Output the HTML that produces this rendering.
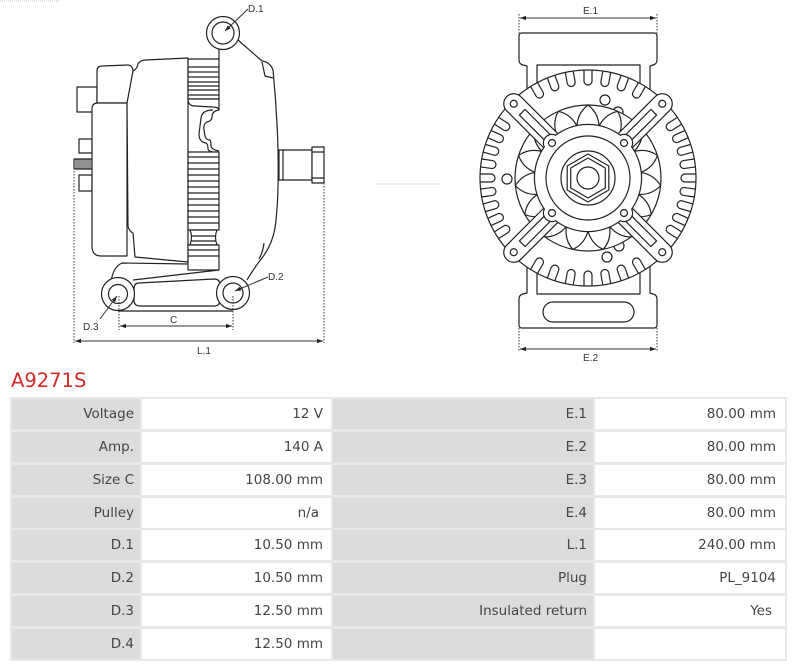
<!DOCTYPE html>
<html><head><meta charset="utf-8"><style>
html,body{margin:0;padding:0;background:#fff;}
#w{position:relative;width:800px;height:667px;overflow:hidden;background:#fff;}
.t{position:absolute;left:10px;top:397px;width:777px;height:264px;background:#e8e8e8;}
.r{position:absolute;left:0;width:777px;height:30px;}
.c{position:absolute;top:0;height:30px;line-height:30px;font-family:"DejaVu Sans","Liberation Sans",sans-serif;font-size:13.5px;color:#444;text-align:right;box-sizing:border-box;white-space:nowrap;}
.a{left:2px;width:128px;background:#dcdcdc;padding-right:6px;}
.b{left:132px;width:189px;background:#fff;padding-right:8px;}
.d{left:323px;width:260px;background:#dcdcdc;padding-right:6px;}
.e{left:585px;width:190px;background:#fff;padding-right:9px;}
.title{position:absolute;left:11px;top:371px;font-family:"DejaVu Sans","Liberation Sans",sans-serif;font-size:19.5px;line-height:20px;color:#d42a2a;}
svg text{font-family:"Liberation Sans",sans-serif;font-size:10px;fill:#333;}
</style></head><body><div id="w">
<svg width="800" height="365" viewBox="0 0 800 365" style="position:absolute;left:0;top:0">
<defs>
<marker id="m" viewBox="0 0 10 10" refX="10" refY="5" markerUnits="userSpaceOnUse" markerWidth="6" markerHeight="6" orient="auto-start-reverse"><path d="M0,1.5 L10,5 L0,8.5z" fill="#222"/></marker>
</defs>
<path d="M0,1 H60 M376,184 H440" stroke="#bbb" stroke-width="1" stroke-dasharray="1,1" fill="none"/>

<!-- ===== LEFT DIAGRAM ===== -->
<g fill="#fff" stroke="#222" stroke-width="1.2" stroke-linejoin="round">
<rect x="77" y="87" width="20" height="25"/>
<rect x="79" y="139" width="13" height="14"/>
<rect x="79" y="175" width="13" height="16"/>
<rect x="74" y="159" width="18" height="10"/>
<path fill="none" stroke-width="1" d="M76,159V169M78,159V169M80,159V169M82,159V169M84,159V169M86,159V169M88,159V169M90,159V169"/>
<path d="M97,103 V71 Q97,66 102,66 L128,65 Q132,65 133,70 V103 Z"/>
<path d="M92,109 Q92,103 98,103 H127 V256 H101 Q92,256 92,246 Z"/>
<path d="M133,71 Q137,69 138,64 Q140,60 146,60 L188,58 V262 L135,257 L133,233 Q129,231 128,226 L127,103 Z"/>
<path stroke="none" d="M219,47 L238,40 L262,61 Q270,62 273,70 Q277,110 278,150 Q279,200 275,228 Q272,245 262,258 Q254,268 248,279 L219,275 Z"/>
<path fill="none" d="M238,40 L262,61 Q270,62 273,70 Q277,110 278,150 Q279,200 275,228 Q272,245 262,258 Q254,268 247,280"/>
<path fill="none" d="M262,62 L265,76 L273,78"/>
<path fill="none" d="M264,243 Q263,252 259,259"/>
<path fill="none" d="M219,48 V59"/>
<rect x="188" y="59" width="31" height="40"/>
<path fill="none" d="M188,67H219M188,72H219M188,77H219M188,82H219M188,86H219M188,90H219M188,95H219"/>
<path d="M188,99 Q188,106 195,106 L212,107 Q219,107 219,110 V99 Z"/>
<path fill="none" d="M213,110 Q202,110 201,118 L199,134 Q199,142 206,143 Q208,144 208,149 Q209,152 213,152"/>
<path fill="none" d="M219,110 Q212,111 212,117 Q212,121 207,122 Q203,124 204,130 L205,136 Q206,140 210,140 Q211,141 211,146 Q212,150 219,151"/>
<rect x="188" y="152" width="31" height="78"/>
<path fill="none" d="M188,157H219M188,163H219M188,169H219M188,175H219M188,181H219M188,187H219M188,193H219M188,199H219M188,205H219M188,211H219M188,217H219M188,223H219"/>
<path d="M190,230 Q193,237 190,245 H217 Q214,237 217,230 Z"/>
<path fill="none" d="M191,236H216M191,241H216"/>
<rect x="188" y="245" width="31" height="25"/>
<path fill="none" d="M188,250H219M188,256H219"/>
<path fill="none" d="M111,282 Q113,267 122,263 L188,264"/>
<path fill="none" d="M133,280 L219,270"/>
<path d="M139,283 L214,279 Q220,279 220,285 V300 Q220,306 214,306 H140 Q134,306 134,300 V289 Q134,283 139,283 Z"/>
<path fill="none" d="M118,311 H233"/>
<circle cx="118" cy="294" r="16.5"/>
<circle cx="118" cy="294" r="9.5"/>
<circle cx="233" cy="293" r="16.5"/>
<circle cx="233" cy="293" r="10"/>
<circle cx="223" cy="33" r="16.5"/>
<circle cx="223" cy="33" r="11"/>
<rect x="279" y="150" width="33" height="30"/>
<path fill="none" d="M283,150V180"/>
<rect x="312" y="147" width="12" height="36"/>
<path fill="none" d="M312,152H324M312,178H324"/>
</g>
<g fill="none" stroke="#333" stroke-width="1">
<path stroke-dasharray="1.5,1.5" d="M74,168 V343 M324,183 V343 M119,296 V330 M233,296 V330"/>
<line x1="75" y1="341" x2="323" y2="341" marker-start="url(#m)" marker-end="url(#m)"/>
<line x1="120" y1="326" x2="232" y2="326" marker-start="url(#m)" marker-end="url(#m)"/>
<line x1="248" y1="9" x2="225" y2="31" marker-end="url(#m)"/>
<line x1="268" y1="277" x2="235" y2="291" marker-end="url(#m)"/>
<line x1="100" y1="319" x2="117" y2="296" marker-end="url(#m)"/>
</g>
<text x="248" y="12">D.1</text>
<text x="268" y="280">D.2</text>
<text x="83" y="330">D.3</text>
<text x="170" y="323">C</text>
<text x="197" y="354">L.1</text>

<!-- ===== RIGHT DIAGRAM ===== -->
<g fill="#fff" stroke="#222" stroke-width="1.2" stroke-linejoin="round">
<path d="M519,36 Q519,33 522,33 L654,33 Q657,33 657,36 L657,60 Q657,64 653,65 L650,66 L650,130 L527,130 L527,66 L523,65 Q519,64 519,60 Z"/>
<rect x="537" y="65" width="103" height="70"/>
<path d="M519,325 Q519,328 522,328 L654,328 Q657,328 657,325 L657,299 Q657,295 653,294 L650,293 L650,230 L527,230 L527,293 L523,294 Q519,295 519,299 Z"/>
<rect x="537" y="225" width="103" height="69"/>
<rect x="543" y="302" width="91" height="20" rx="10"/>
<circle cx="588" cy="178" r="108"/>
<g fill="none">
<path id="n" d="M584,70 L584,81 A4,4 0 0 0 592,81 L592,70"/>
<use href="#n" transform="rotate(-30 588 178)"/><use href="#n" transform="rotate(-20 588 178)"/><use href="#n" transform="rotate(-10 588 178)"/>
<use href="#n" transform="rotate(10 588 178)"/><use href="#n" transform="rotate(20 588 178)"/><use href="#n" transform="rotate(30 588 178)"/>
<use href="#n" transform="rotate(150 588 178)"/><use href="#n" transform="rotate(160 588 178)"/><use href="#n" transform="rotate(170 588 178)"/><use href="#n" transform="rotate(180 588 178)"/>
<use href="#n" transform="rotate(190 588 178)"/><use href="#n" transform="rotate(200 588 178)"/><use href="#n" transform="rotate(210 588 178)"/>
<use href="#n" transform="rotate(-122 588 178)"/><use href="#n" transform="rotate(-114 588 178)"/><use href="#n" transform="rotate(-106 588 178)"/><use href="#n" transform="rotate(-98 588 178)"/><use href="#n" transform="rotate(-90 588 178)"/><use href="#n" transform="rotate(-82 588 178)"/><use href="#n" transform="rotate(-74 588 178)"/><use href="#n" transform="rotate(-66 588 178)"/><use href="#n" transform="rotate(-58 588 178)"/>
<use href="#n" transform="rotate(58 588 178)"/><use href="#n" transform="rotate(66 588 178)"/><use href="#n" transform="rotate(74 588 178)"/><use href="#n" transform="rotate(82 588 178)"/><use href="#n" transform="rotate(90 588 178)"/><use href="#n" transform="rotate(98 588 178)"/><use href="#n" transform="rotate(106 588 178)"/><use href="#n" transform="rotate(114 588 178)"/><use href="#n" transform="rotate(122 588 178)"/>
</g>
<circle cx="605" cy="100" r="5"/><circle cx="618" cy="112" r="5"/>
<circle cx="607" cy="257" r="5"/><circle cx="619" cy="246" r="5"/>
<circle cx="507" cy="179" r="5"/>
<circle cx="588" cy="178" r="73"/>
<g fill="none">
<path id="f" d="M576.98,126.16 Q577.68,112.81 588,105 Q598.32,112.81 599.02,126.16"/>
<use href="#f" transform="rotate(24 588 178)"/><use href="#f" transform="rotate(48 588 178)"/><use href="#f" transform="rotate(72 588 178)"/><use href="#f" transform="rotate(96 588 178)"/><use href="#f" transform="rotate(120 588 178)"/><use href="#f" transform="rotate(144 588 178)"/><use href="#f" transform="rotate(168 588 178)"/><use href="#f" transform="rotate(192 588 178)"/><use href="#f" transform="rotate(216 588 178)"/><use href="#f" transform="rotate(240 588 178)"/><use href="#f" transform="rotate(264 588 178)"/><use href="#f" transform="rotate(288 588 178)"/><use href="#f" transform="rotate(312 588 178)"/><use href="#f" transform="rotate(336 588 178)"/>
</g>
<g transform="translate(588 178) rotate(-135)"><path d="M45,-10 L105,-10 A10,10 0 0 1 105,10 L45,10 Z"/><circle cx="105" cy="0" r="3.5"/><rect x="57" y="-4" width="36" height="8"/></g>
<g transform="translate(588 178) rotate(-45)"><path d="M45,-10 L105,-10 A10,10 0 0 1 105,10 L45,10 Z"/><circle cx="105" cy="0" r="3.5"/><rect x="57" y="-4" width="36" height="8"/></g>
<g transform="translate(588 178) rotate(45)"><path d="M45,-10 L105,-10 A10,10 0 0 1 105,10 L45,10 Z"/><circle cx="105" cy="0" r="3.5"/><rect x="57" y="-4" width="36" height="8"/></g>
<g transform="translate(588 178) rotate(135)"><path d="M45,-10 L105,-10 A10,10 0 0 1 105,10 L45,10 Z"/><circle cx="105" cy="0" r="3.5"/><rect x="57" y="-4" width="36" height="8"/></g>
<g stroke-width="2.4">
<circle cx="588" cy="178" r="53"/><circle cx="552" cy="143" r="8"/><circle cx="624" cy="143" r="8"/><circle cx="552" cy="213" r="8"/><circle cx="624" cy="213" r="8"/>
</g>
<g stroke="none">
<circle cx="588" cy="178" r="53"/><circle cx="552" cy="143" r="8"/><circle cx="624" cy="143" r="8"/><circle cx="552" cy="213" r="8"/><circle cx="624" cy="213" r="8"/>
</g>
<circle cx="552" cy="143" r="3.5"/><circle cx="624" cy="143" r="3.5"/><circle cx="552" cy="213" r="3.5"/><circle cx="624" cy="213" r="3.5"/>
<circle cx="588" cy="178" r="42"/>
<circle cx="588" cy="178" r="27"/>
<polygon points="588,154 608.8,166 608.8,190 588,202 567.2,190 567.2,166"/>
<polygon points="588,158 605.3,168 605.3,188 588,198 570.7,188 570.7,168"/>
<circle cx="588" cy="178" r="11"/>
</g>
<g fill="none" stroke="#333" stroke-width="1">
<path stroke-dasharray="1.5,1.5" d="M519,14 V33 M657,14 V33 M519,328 V352 M657,328 V352"/>
<line x1="520" y1="18" x2="656" y2="18" marker-start="url(#m)" marker-end="url(#m)"/>
<line x1="520" y1="349" x2="656" y2="349" marker-start="url(#m)" marker-end="url(#m)"/>
</g>
<text x="583" y="14">E.1</text>
<text x="583" y="361">E.2</text>
</svg>

<div class="title">A9271S</div>

<div class="t">
<div class="r" style="top:2px"><div class="c a">Voltage</div><div class="c b">12 V</div><div class="c d">E.1</div><div class="c e">80.00 mm</div></div>
<div class="r" style="top:35px"><div class="c a">Amp.</div><div class="c b">140 A</div><div class="c d">E.2</div><div class="c e">80.00 mm</div></div>
<div class="r" style="top:68px"><div class="c a">Size C</div><div class="c b">108.00 mm</div><div class="c d">E.3</div><div class="c e">80.00 mm</div></div>
<div class="r" style="top:101px"><div class="c a">Pulley</div><div class="c b" style="padding-right:12px">n/a</div><div class="c d">E.4</div><div class="c e">80.00 mm</div></div>
<div class="r" style="top:133px"><div class="c a">D.1</div><div class="c b">10.50 mm</div><div class="c d">L.1</div><div class="c e">240.00 mm</div></div>
<div class="r" style="top:166px"><div class="c a">D.2</div><div class="c b">10.50 mm</div><div class="c d">Plug</div><div class="c e">PL_9104</div></div>
<div class="r" style="top:199px"><div class="c a">D.3</div><div class="c b">12.50 mm</div><div class="c d">Insulated return</div><div class="c e" style="padding-right:13px">Yes</div></div>
<div class="r" style="top:232px"><div class="c a">D.4</div><div class="c b">12.50 mm</div><div class="c d"></div><div class="c e"></div></div>
</div>
</div></body></html>
